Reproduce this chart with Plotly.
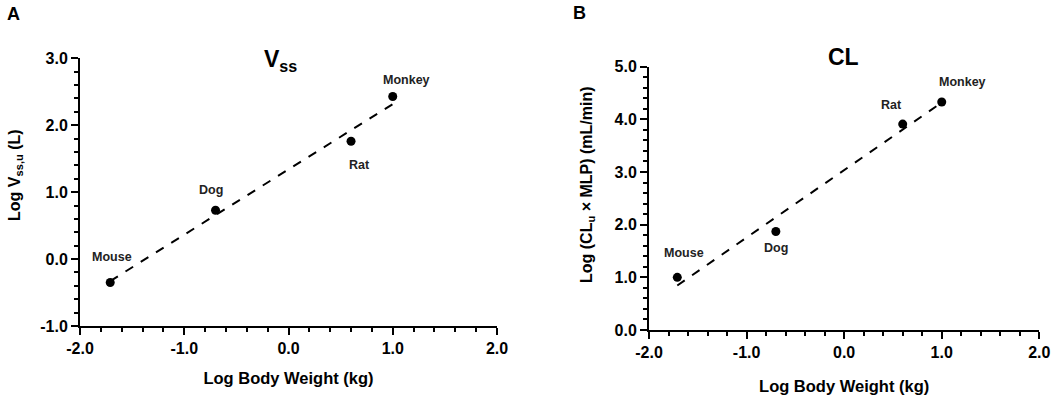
import numpy as np
import plotly.graph_objects as go

species = ["Mouse", "Dog", "Rat", "Monkey"]
log_bw = [-1.71, -0.70, 0.60, 1.00]
log_vss = [-0.35, 0.73, 1.76, 2.43]
log_cl = [1.00, 1.87, 3.91, 4.33]

x_ticks = [-2.0, -1.0, 0.0, 1.0, 2.0]
vss_ticks = [-1.0, 0.0, 1.0, 2.0, 3.0]
cl_ticks = [0.0, 1.0, 2.0, 3.0, 4.0, 5.0]

# label offsets in pixels (style only)
shift_a = {"Mouse": (2, 25), "Dog": (-5, 20), "Rat": (8, -24), "Monkey": (14, 16)}
shift_b = {"Mouse": (7, 24), "Dog": (0, -16), "Rat": (-11, 19), "Monkey": (21, 20)}

W, H = 1059, 395
FONT = "Liberation Sans, Arial, sans-serif"

fig = go.Figure()

def lbl(v):
    return "<b>%.1f</b>" % v

def add_panel(yvals, xa, ya, shifts):
    fig.add_trace(go.Scatter(x=log_bw, y=yvals, mode="markers",
                             marker=dict(color="black", size=9),
                             xaxis=xa, yaxis=ya, showlegend=False, hoverinfo="skip"))
    k, b = np.polyfit(log_bw, yvals, 1)
    xs = [min(log_bw), max(log_bw)]
    fig.add_trace(go.Scatter(x=xs, y=[k * v + b for v in xs], mode="lines",
                             line=dict(color="black", width=2, dash="dash"),
                             xaxis=xa, yaxis=ya, showlegend=False, hoverinfo="skip"))
    for s, xv, yv in zip(species, log_bw, yvals):
        dx, dy = shifts[s]
        fig.add_annotation(x=xv, y=yv, xref=xa, yref=ya, text="<b>" + s + "</b>",
                           showarrow=False, xshift=dx, yshift=dy,
                           xanchor="center", yanchor="middle",
                           font=dict(family=FONT, size=12.5, color="#222"))

add_panel(log_vss, "x", "y", shift_a)
add_panel(log_cl, "x2", "y2", shift_b)

def xaxis_cfg(domain, standoff):
    return dict(domain=domain, range=[-2.0, 2.0], tickvals=x_ticks,
                ticktext=[lbl(v) for v in x_ticks], automargin=False,
                showline=True, linecolor="black", linewidth=2, showgrid=False, zeroline=False,
                ticks="outside", ticklen=7, tickwidth=2, tickcolor="black",
                minor=dict(dtick=0.2, ticks="outside", ticklen=4, tickwidth=1.5, tickcolor="black"),
                tickfont=dict(family=FONT, size=16, color="black"),
                title=dict(text="<b>Log Body Weight (kg)</b>", standoff=standoff,
                           font=dict(family=FONT, size=16.5, color="black")))

def yaxis_cfg(domain, rng, tv, anchor):
    return dict(domain=domain, range=rng, tickvals=tv, ticktext=[lbl(v) for v in tv],
                anchor=anchor, automargin=False,
                showline=True, linecolor="black", linewidth=2, showgrid=False, zeroline=False,
                ticks="outside", ticklen=7, tickwidth=2, tickcolor="black",
                minor=dict(dtick=0.2, ticks="outside", ticklen=4, tickwidth=1.5, tickcolor="black"),
                tickfont=dict(family=FONT, size=16, color="black"))

xa_dom = [80 / W, 497 / W]
xb_dom = [649 / W, 1039.3 / W]
ya_dom = [1 - 326 / H, 1 - 58.3 / H]
yb_dom = [1 - 330 / H, 1 - 66.7 / H]

fig.update_layout(
    width=W, height=H, margin=dict(l=0, r=0, t=0, b=0, autoexpand=False),
    plot_bgcolor="white", paper_bgcolor="white",
    xaxis=dict(xaxis_cfg(xa_dom, 16), anchor="y"),
    yaxis=yaxis_cfg(ya_dom, [-1.0, 3.0], vss_ticks, "x"),
    xaxis2=dict(xaxis_cfg(xb_dom, 21), anchor="y2"),
    yaxis2=yaxis_cfg(yb_dom, [0.0, 5.0], cl_ticks, "x2"),
)

def paper_text(x, y, text, size, angle=0):
    fig.add_annotation(x=x / W, y=1 - y / H, xref="paper", yref="paper", text=text,
                       showarrow=False, xanchor="center", yanchor="middle", textangle=angle,
                       font=dict(family=FONT, size=size, color="black"))

# y-axis titles
paper_text(16, 175, "<b>Log V<sub>ss,u</sub> (L)</b>", 16, -90)
paper_text(587, 185, "<b>Log (CL<sub>u</sub> × MLP) (mL/min)</b>", 16, -90)
# panel titles and letters
paper_text(280, 60, "<b>V<sub>ss</sub></b>", 23)
paper_text(843, 57, "<b>CL</b>", 23)
paper_text(13, 14, "<b>A</b>", 18)
paper_text(579, 13, "<b>B</b>", 18)

fig.write_html("out.html", config={"displayModeBar": False},
               post_script="document.body.style.margin='0px';")
